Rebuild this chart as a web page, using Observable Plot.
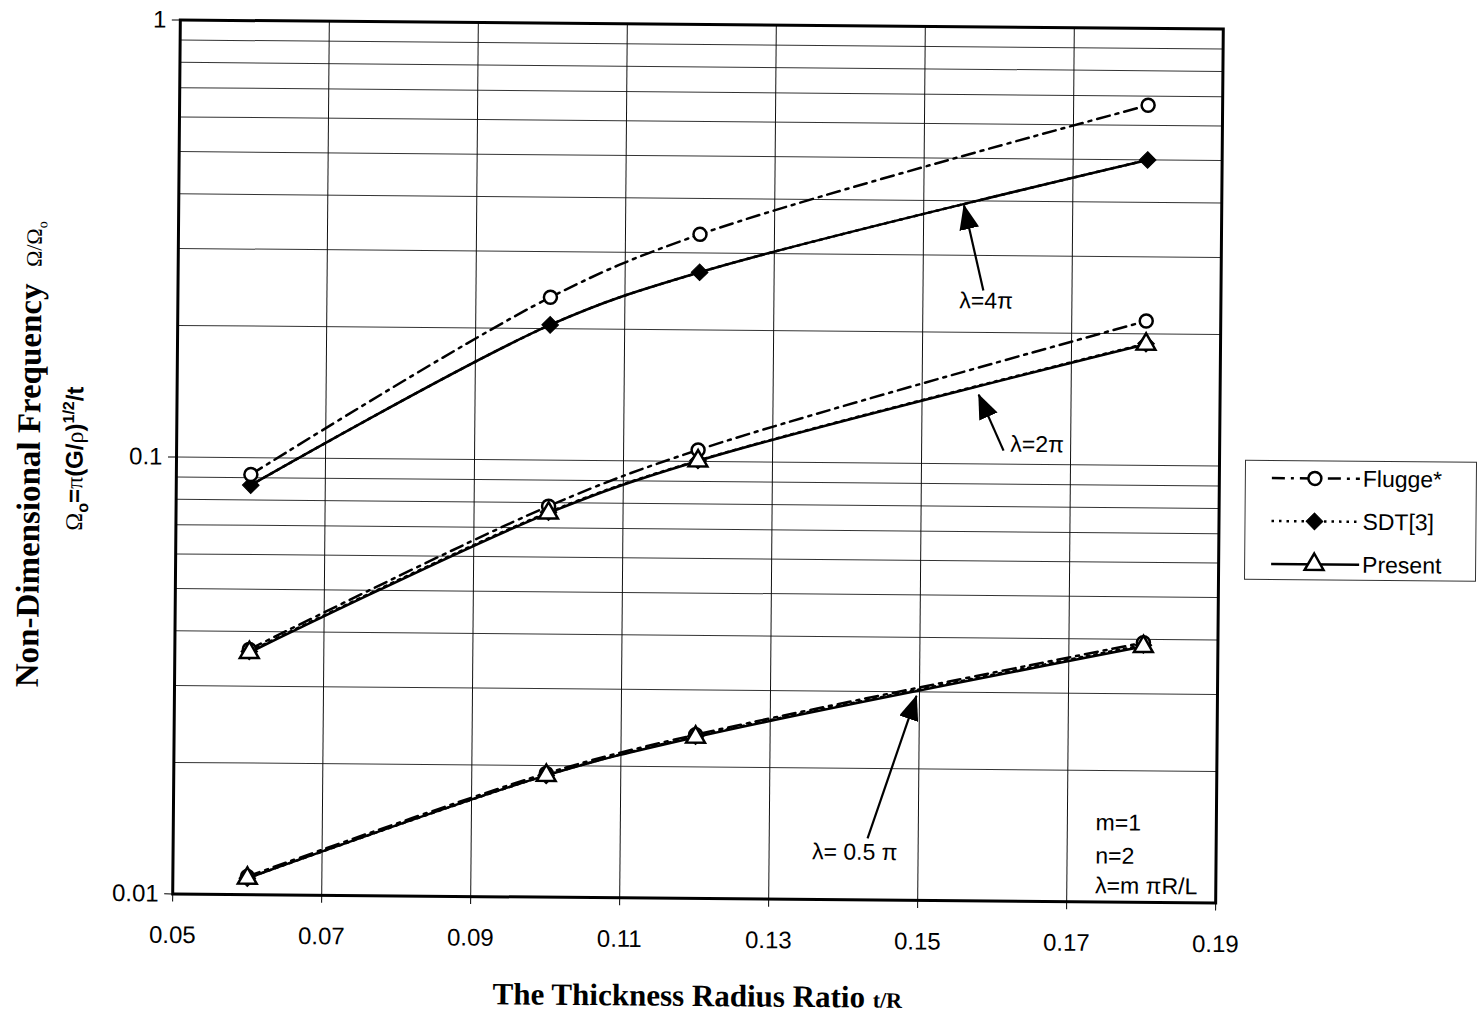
<!DOCTYPE html>
<html>
<head>
<meta charset="utf-8">
<script src="https://cdn.jsdelivr.net/npm/d3@7"></script>
<script src="https://cdn.jsdelivr.net/npm/@observablehq/plot@0.6"></script>
<style>
  html, body { margin: 0; padding: 0; background: #fff; overflow: hidden; }
  #wrap { position: relative; width: 1482px; height: 1016px; transform: rotate(0.5deg); transform-origin: 697px 461px; }
  #chart { position: absolute; left: 0; top: 0; }
  .ytitle1 { position: absolute; left: 30px; top: 460px; transform: translate(-50%, -50%) rotate(-90deg);
    white-space: nowrap; font-family: "Liberation Serif", "Times New Roman", serif; font-weight: bold; font-size: 33px; color: #000; }
  .ytitle1 .small { font-weight: normal; font-size: 22px; }
  .ytitle2 { position: absolute; left: 76px; top: 464px; transform: translate(-50%, -50%) rotate(-90deg);
    white-space: nowrap; font-family: "Liberation Sans", Arial, sans-serif; font-weight: bold; font-size: 24px; color: #000; }
  .ytitle2 .sym { font-family: "Liberation Serif", serif; font-weight: normal; }
  .ytitle2 sup { font-size: 16px; }
  .ytitle2 sub { font-size: 16px; }
  .xtitle { position: absolute; left: 702px; top: 996px; transform: translate(-50%, -50%);
    white-space: nowrap; font-family: "Liberation Serif", "Times New Roman", serif; font-weight: bold; font-size: 31px; color: #000; }
  .xtitle .small { font-size: 22px; }
  #legend { position: absolute; left: 1245px; top: 455px; width: 232px; height: 120px; border: 1.5px solid #333; background: #fff; box-sizing: border-box; }
</style>
</head>
<body>
<div id="wrap">
  <div id="chart"></div>
  <div class="ytitle1">Non-Dimensional Frequency&nbsp; <span class="small">Ω/Ω<sub style="font-size:14px">o</sub></span></div>
  <div class="ytitle2"><span class="sym">Ω</span><sub>o</sub>=<span class="sym">π</span>(G/<span class="sym">ρ</span>)<sup>1/2</sup>/t</div>
  <div class="xtitle">The Thickness Radius Ratio <span class="small">t/R</span></div>
  <div id="legend"></div>
</div>
<script>
// ---- data ----
const tR = [0.06, 0.10, 0.12, 0.18];

const flugge4pi  = [0.0915, 0.236, 0.331, 0.667];
const flugge2pi  = [0.0364, 0.0785, 0.1063, 0.214];
const flugge05pi = [0.0110, 0.0192, 0.0237, 0.0393];

const sdt4pi  = [0.0865, 0.204, 0.271, 0.500];
const sdt2pi  = [0.0360, 0.0760, 0.1005, 0.1900];
const sdt05pi = [0.0109, 0.0190, 0.0235, 0.0388];

const present4pi  = [0.0865, 0.204, 0.271, 0.500];
const present2pi  = [0.0358, 0.0757, 0.1003, 0.1894];
const present05pi = [0.0109, 0.0190, 0.0234, 0.0385];

const seriesNames = ["Flugge*", "SDT[3]", "Present"];

const xTicks = [0.05, 0.07, 0.09, 0.11, 0.13, 0.15, 0.17, 0.19];
const xTickLabels = ["0.05", "0.07", "0.09", "0.11", "0.13", "0.15", "0.17", "0.19"];
const xGrid = [0.07, 0.09, 0.11, 0.13, 0.15, 0.17];
const yTicks = [0.01, 0.1, 1];
const yTickLabels = ["0.01", "0.1", "1"];
const yGrid = [0.02, 0.03, 0.04, 0.05, 0.06, 0.07, 0.08, 0.09, 0.1, 0.2, 0.3, 0.4, 0.5, 0.6, 0.7, 0.8, 0.9];

// annotations (data coordinates)
const arrowBaseX = [0.1581, 0.1610, 0.1432];
const arrowBaseY = [0.2495, 0.1074, 0.01384];
const arrowTipX  = [0.1554, 0.1576, 0.1496];
const arrowTipY  = [0.3905, 0.1441, 0.02937];
const labelText = ["λ=4π", "λ=2π", "λ= 0.5 π"];
const labelX = [0.1585, 0.1655, 0.1415];
const labelY = [0.236, 0.111, 0.01285];
const noteText = ["m=1", "n=2", "λ=m πR/L"];
const noteX = [0.1738, 0.1738, 0.1738];
const noteY = [0.01517, 0.01274, 0.01088];

// ---- build tables ----
const rows = (name, lam, vals) => tR.map((x, i) => ({x, v: vals[i], lam, name}));
const flugge = [...rows("Flugge*", "4π", flugge4pi), ...rows("Flugge*", "2π", flugge2pi), ...rows("Flugge*", "0.5π", flugge05pi)];
const sdt = [...rows("SDT[3]", "4π", sdt4pi), ...rows("SDT[3]", "2π", sdt2pi), ...rows("SDT[3]", "0.5π", sdt05pi)];
const present = [...rows("Present", "4π", present4pi), ...rows("Present", "2π", present2pi), ...rows("Present", "0.5π", present05pi)];
const arrows = arrowBaseX.map((x1, i) => ({x1, y1: arrowBaseY[i], x2: arrowTipX[i], y2: arrowTipY[i]}));
const labels = labelText.map((t, i) => ({t, x: labelX[i], y: labelY[i]}));
const notes = noteText.map((t, i) => ({t, x: noteX[i], y: noteY[i]}));

const LW = 2.5;
const chart = Plot.plot({
  width: 1482,
  height: 1016,
  marginLeft: 176,
  marginRight: 263,
  marginTop: 24,
  marginBottom: 118,
  style: {fontFamily: "'Liberation Sans', Arial, sans-serif", fontSize: "24px", color: "#000", background: "transparent", overflow: "visible"},
  x: {domain: [0.05, 0.19]},
  y: {type: "log", domain: [0.01, 1]},
  marks: [
    Plot.gridY(yGrid, {stroke: "#333", strokeOpacity: 1, strokeWidth: 1}),
    Plot.gridX(xGrid, {stroke: "#111", strokeOpacity: 1, strokeWidth: 1}),
    Plot.axisY(yTicks, {tickSize: 8, tickPadding: 6, fontSize: 24, tickFormat: d => yTickLabels[yTicks.indexOf(d)], label: null}),
    Plot.axisX(xTicks, {tickSize: 8, tickPadding: 24, fontSize: 24, tickFormat: d => xTickLabels[xTicks.indexOf(d)], label: null}),
    Plot.line(present, {x: "x", y: "v", z: "lam", curve: "catmull-rom", stroke: "#000", strokeWidth: LW}),
    Plot.line(sdt, {x: "x", y: "v", z: "lam", curve: "catmull-rom", stroke: "#000", strokeWidth: LW, strokeDasharray: "2.5,5"}),
    Plot.line(flugge, {x: "x", y: "v", z: "lam", curve: "catmull-rom", stroke: "#000", strokeWidth: LW, strokeDasharray: "13,6,3,6"}),
    Plot.dot(sdt, {x: "x", y: "v", symbol: "diamond2", r: 7.5, fill: "#000", stroke: "#000", strokeWidth: 1}),
    Plot.dot(flugge, {x: "x", y: "v", symbol: "circle", r: 6.5, fill: "#fff", stroke: "#000", strokeWidth: LW}),
    Plot.dot(present, {filter: d => d.lam !== "4π", x: "x", y: "v", symbol: "triangle", r: 7, fill: "#fff", stroke: "#000", strokeWidth: LW}),
    Plot.frame({stroke: "#000", strokeWidth: 3}),
    Plot.link(arrows, {x1: "x1", y1: "y1", x2: "x2", y2: "y2", stroke: "#000", strokeWidth: 2.2}),
    Plot.text(labels, {x: "x", y: "y", text: "t", fontSize: 23, fill: "#000", textAnchor: "middle"}),
    Plot.text(notes, {x: "x", y: "y", text: "t", fontSize: 23, fill: "#000", textAnchor: "start"})
  ]
});
document.getElementById("chart").appendChild(chart);

// filled arrow heads on the annotation links
const svg = d3.select(chart);
svg.append("defs").html('<marker id="ahead" markerUnits="userSpaceOnUse" viewBox="0 0 25 20" markerWidth="25" markerHeight="20" refX="24" refY="10" orient="auto"><path d="M0,0L25,10L0,20Z" fill="#000"/></marker>');
svg.selectAll('g[aria-label="link"] path').attr("marker-end", "url(#ahead)");

// ---- legend ----
const lg = d3.select("#legend").append("svg").attr("width", 230).attr("height", 118);
const legendStyles = [
  {dash: "13,6,3,6", sym: "circle", fill: "#fff"},
  {dash: "2.5,5", sym: "diamond2", fill: "#000"},
  {dash: null, sym: "triangle", fill: "#fff"}
];
const symMap = {circle: d3.symbolCircle, diamond2: d3.symbolDiamond2, triangle: d3.symbolTriangle};
const symR = {circle: 6.5, diamond2: 7.5, triangle: 7};
seriesNames.forEach((name, i) => {
  const cy = 17 + i * 43;
  const st = legendStyles[i];
  lg.append("line").attr("x1", 26).attr("x2", 114).attr("y1", cy).attr("y2", cy)
    .attr("stroke", "#000").attr("stroke-width", LW).attr("stroke-dasharray", st.dash);
  const r = symR[st.sym];
  lg.append("path").attr("d", d3.symbol(symMap[st.sym], Math.PI * r * r)())
    .attr("transform", `translate(69,${cy})`).attr("fill", st.fill).attr("stroke", "#000").attr("stroke-width", st.sym === "diamond2" ? 1 : LW);
  lg.append("text").attr("x", 117).attr("y", cy).attr("dy", "0.35em")
    .attr("font-family", "'Liberation Sans', Arial, sans-serif").attr("font-size", 23).attr("fill", "#000").text(name);
});
</script>
</body>
</html>
